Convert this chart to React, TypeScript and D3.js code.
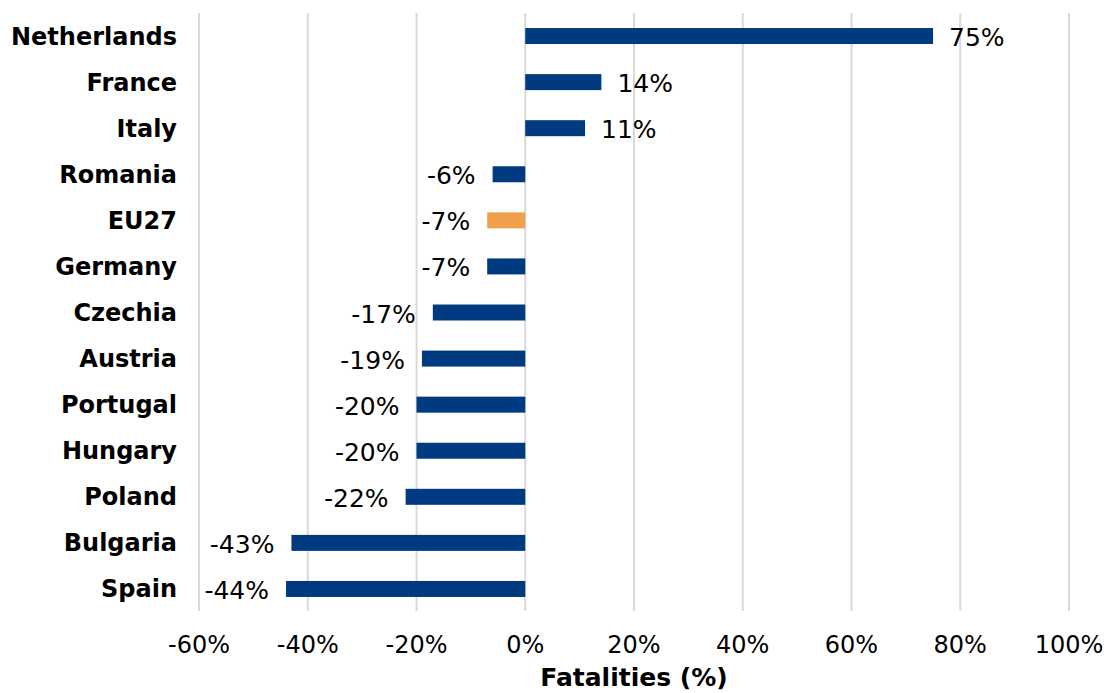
import React from "react";
import * as d3 from "d3";

// Change in road fatalities by country
const countries = [
  "Netherlands", "France", "Italy", "Romania", "EU27", "Germany", "Czechia",
  "Austria", "Portugal", "Hungary", "Poland", "Bulgaria", "Spain",
];
const changes = [75, 14, 11, -6, -7, -7, -17, -19, -20, -20, -22, -43, -44];
const highlighted = ["EU27"];
const xTicks = [-60, -40, -20, 0, 20, 40, 60, 80, 100];
const xTitle = "Fatalities (%)";

const W = 1110;
const H = 693;
const FONT = "'DejaVu Sans', Verdana, sans-serif";
const NAVY = "#003a80";
const ORANGE = "#f0a04b";

export default function App() {
  const x = d3.scaleLinear().domain([-60, 100]).range([199, 1069]);
  const y = d3.scaleBand<string>().domain(countries).range([13, 612]).paddingInner(0).paddingOuter(0);
  const barH = 16;
  const rows = countries.map((c, i) => ({ c, v: changes[i] }));

  return (
    <svg width={W} height={H} style={{ position: "absolute", left: 0, top: 0, background: "#fff" }}>
      {/* vertical gridlines */}
      {xTicks.map((t) => (
        <line key={t} x1={x(t)} x2={x(t)} y1={13} y2={611} stroke="#d9d9d9" strokeWidth={2} />
      ))}
      {/* bars */}
      {rows.map(({ c, v }) => {
        const cy = (y(c) as number) + y.bandwidth() / 2;
        return (
          <rect
            key={c}
            x={Math.min(x(0), x(v))}
            y={cy - barH / 2}
            width={Math.abs(x(v) - x(0))}
            height={barH}
            fill={highlighted.includes(c) ? ORANGE : NAVY}
          />
        );
      })}
      {/* value labels */}
      {rows.map(({ c, v }) => {
        const cy = (y(c) as number) + y.bandwidth() / 2;
        const pos = v >= 0;
        return (
          <text
            key={c}
            x={pos ? x(v) + 16 : x(v) - 17}
            y={cy + 10}
            textAnchor={pos ? "start" : "end"}
            fontFamily={FONT}
            fontSize={25}
            fill="#000"
          >
            {`${v}%`}
          </text>
        );
      })}
      {/* category labels */}
      {rows.map(({ c }) => {
        const cy = (y(c) as number) + y.bandwidth() / 2;
        return (
          <text
            key={c}
            x={177}
            y={cy + 8.5}
            textAnchor="end"
            fontFamily={FONT}
            fontSize={24}
            fontWeight="bold"
            fill="#000"
          >
            {c}
          </text>
        );
      })}
      {/* x tick labels */}
      {xTicks.map((t) => (
        <text
          key={t}
          x={x(t)}
          y={653}
          textAnchor="middle"
          fontFamily={FONT}
          fontSize={24}
          fill="#000"
        >
          {`${t}%`}
        </text>
      ))}
      <text
        x={(x(-60) + x(100)) / 2}
        y={686}
        textAnchor="middle"
        fontFamily={FONT}
        fontSize={25}
        fontWeight="bold"
        fill="#000"
      >
        {xTitle}
      </text>
    </svg>
  );
}
